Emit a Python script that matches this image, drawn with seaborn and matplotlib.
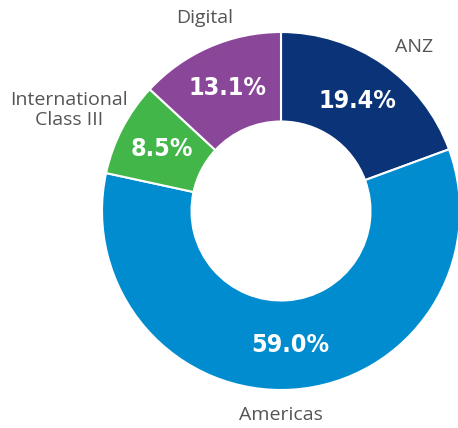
import numpy as np
import matplotlib
matplotlib.use("Agg")
import matplotlib.pyplot as plt
import seaborn as sns

# Segment data (clockwise from 12 o'clock)
segments = ["ANZ", "Americas", "International\nClass III", "Digital"]
shares = [19.4, 59.0, 8.5, 13.1]
colors = ["#0b3478", "#008ccf", "#43b649", "#8a4799"]

sns.set_theme(style="white")
plt.rcParams['font.family'] = ['Open Sans', 'DejaVu Sans']

fig = plt.figure(figsize=(4.58, 4.28), dpi=100)
ax = fig.add_axes([0, 0, 1, 1])

cx, cy, R = 281, 217, 179
wedges, _ = ax.pie(shares, colors=colors, startangle=90, counterclock=False,
                   center=(cx, cy), radius=R, frame=True,
                   wedgeprops=dict(width=R * 0.5, edgecolor='white', linewidth=1.5))
ax.set_xlim(0, 458)
ax.set_ylim(0, 428)
ax.set_aspect('equal')
ax.axis('off')

# name label placement: (radius factor, angle nudge in degrees)
name_pos = [(1.18, -4), (1.14, -4), (1.31, 2), (1.16, -2)]
for w, seg, val, (lr, da) in zip(wedges, segments, shares, name_pos):
    mid = (w.theta1 + w.theta2) / 2
    ang = np.deg2rad(mid)
    r_in = R * 0.75
    ax.text(cx + r_in * np.cos(ang), cy + r_in * np.sin(ang), f"{val:.1f}%",
            ha='center', va='center', color='white', fontsize=18,
            fontweight='bold', fontstretch='condensed', family='DejaVu Sans')
    ang2 = np.deg2rad(mid + da)
    ax.text(cx + R * lr * np.cos(ang2), cy + R * lr * np.sin(ang2), seg,
            ha='center', va='center', color='#555555', fontsize=14,
            linespacing=1.1)

plt.savefig("out.png", dpi=100)
